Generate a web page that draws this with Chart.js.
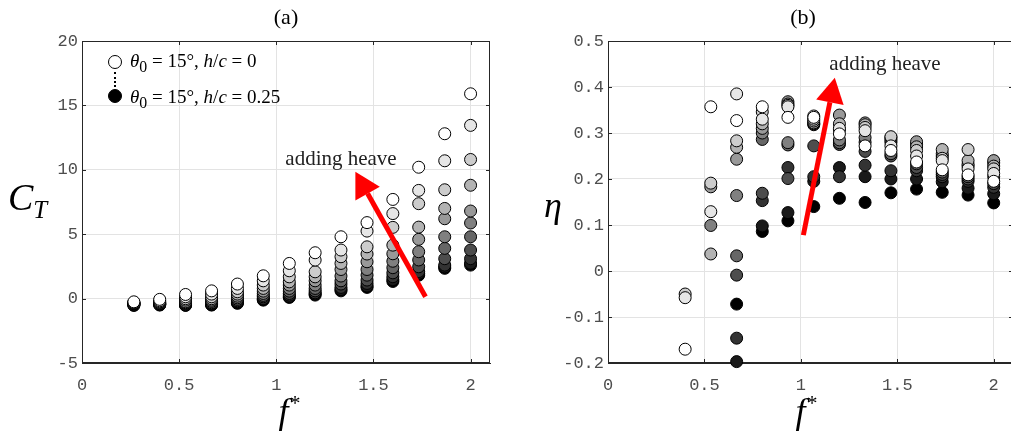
<!DOCTYPE html>
<html lang="en">
<head>
<meta charset="utf-8" />
<title>Thrust and efficiency vs f*</title>
<script src="https://cdn.jsdelivr.net/npm/chart.js@4.4.0/dist/chart.umd.min.js"></script>
<style>
  body { margin: 0; width: 1011px; height: 435px; overflow: hidden; background: #fff; position: relative; }
  canvas { position: absolute; top: 0; }
  #chartA { left: 0; }
  #chartB { left: 520px; }
  .lbl { position: absolute; color: #000; white-space: nowrap; line-height: 1; font-family: 'Liberation Serif', serif; transform: translate(-50%, -50%); }
  .panel { font-size: 22px; top: 17px; }
  .axis { font-size: 36px; font-style: italic; }
  .note { font-size: 21px; color: #222; }
  .leg { position: absolute; font-family: 'Liberation Serif', serif; font-size: 19px; white-space: nowrap; line-height: 1; transform: translateY(-50%); }
  .dot { position: absolute; width: 12px; height: 12px; border: 1px solid #000; border-radius: 50%; transform: translate(-50%, -50%); }
  .dots { position: absolute; left: 115px; top: 72px; height: 15px; border-left: 2px dotted #000; transform: translateX(-1px); }
</style>
</head>
<body>
  <canvas id="chartA" width="500" height="435"></canvas>
  <canvas id="chartB" width="500" height="435"></canvas>

  <div class="lbl panel" style="left:286px">(a)</div>
  <div class="lbl panel" style="left:803px">(b)</div>
  <div class="lbl axis" style="left:289px; top:410px">f<sup style="font-size:22px">*</sup></div>
  <div class="lbl axis" style="left:806px; top:410px">f<sup style="font-size:22px">*</sup></div>
  <div class="lbl axis" style="left:8px; top:200px; transform:translateY(-50%); font-size:38px">C<sub style="font-size:25px">T</sub></div>
  <div class="lbl axis" style="left:553px; top:205px">η</div>
  <div class="lbl note" style="left:341px; top:158px">adding heave</div>
  <div class="lbl note" style="left:885px; top:63px">adding heave</div>

  <div class="dot" style="left:115px; top:62px; background:#fff"></div>
  <div class="dots"></div>
  <div class="dot" style="left:115px; top:96px; background:#000"></div>
  <div class="leg" style="left:130px; top:63px"><i>θ</i><sub>0</sub> = 15°, <i>h</i>/<i>c</i> = 0</div>
  <div class="leg" style="left:130px; top:99px"><i>θ</i><sub>0</sub> = 15°, <i>h</i>/<i>c</i> = 0.25</div>

<script>
// reduced frequency f* for each panel
const fStarThrust = [0.267, 0.4, 0.533, 0.667, 0.8, 0.933, 1.067, 1.2, 1.333, 1.467, 1.6, 1.733, 1.867, 2.0];
const fStarEff = [0.4, 0.533, 0.667, 0.8, 0.933, 1.067, 1.2, 1.333, 1.467, 1.6, 1.733, 1.867, 2.0];

// heave amplitude h/c of each series (white -> black)
const hOverC = [0, 0.025, 0.05, 0.075, 0.1, 0.125, 0.15, 0.175, 0.2, 0.225, 0.25];

// thrust coefficient C_T, one row per h/c
const thrust = [
  [-0.25, -0.06, 0.32, 0.6, 1.13, 1.77, 2.73, 3.56, 4.8, 5.9, 7.7, 10.2, 12.8, 15.9],
  [-0.3, -0.17, 0.14, 0.35, 0.79, 1.38, 2.16, 2.99, 3.77, 5.24, 6.6, 8.4, 10.7, 13.45],
  [-0.32, -0.25, -0.01, 0.14, 0.53, 1.05, 1.69, 2.08, 3.25, 4.02, 5.53, 7.37, 8.45, 10.8],
  [-0.35, -0.3, -0.12, -0.01, 0.35, 0.79, 1.3, 1.69, 2.73, 3.46, 4.15, 5.55, 7.0, 8.8],
  [-0.37, -0.35, -0.25, -0.12, 0.19, 0.58, 1.05, 1.38, 2.26, 2.86, 3.48, 4.6, 6.2, 6.8],
  [-0.4, -0.37, -0.32, -0.22, 0.06, 0.4, 0.79, 1.05, 1.75, 2.26, 2.9, 3.64, 4.8, 5.87],
  [-0.43, -0.4, -0.37, -0.32, -0.06, 0.25, 0.58, 0.79, 1.38, 1.82, 2.4, 3.0, 3.9, 4.8],
  [-0.45, -0.43, -0.43, -0.37, -0.17, 0.14, 0.4, 0.6, 1.13, 1.44, 2.0, 2.47, 3.1, 3.77],
  [-0.48, -0.45, -0.48, -0.43, -0.25, 0.01, 0.27, 0.45, 0.87, 1.18, 1.7, 2.1, 2.6, 3.1],
  [-0.5, -0.48, -0.5, -0.48, -0.32, -0.06, 0.14, 0.35, 0.71, 0.97, 1.47, 1.96, 2.45, 2.75],
  [-0.53, -0.5, -0.53, -0.5, -0.37, -0.12, 0.09, 0.27, 0.6, 0.87, 1.33, 1.82, 2.35, 2.6]
];

// propulsive efficiency eta, one row per h/c (null = below the axis)
const efficiency = [
  [-0.17, 0.357, 0.327, 0.357, 0.334, 0.334, 0.298, 0.272, 0.262, 0.237, 0.22, 0.209, 0.195],
  [-0.058, 0.129, 0.385, 0.33, 0.357, 0.337, 0.31, 0.305, 0.272, 0.25, 0.24, 0.222, 0.212],
  [-0.05, 0.191, 0.283, 0.346, 0.36, 0.33, 0.307, 0.312, 0.292, 0.262, 0.245, 0.264, 0.222],
  [null, 0.037, 0.269, 0.32, 0.363, 0.326, 0.32, 0.318, 0.29, 0.27, 0.264, 0.24, 0.228],
  [null, 0.183, 0.243, 0.31, 0.368, 0.322, 0.339, 0.322, 0.285, 0.281, 0.255, 0.232, 0.24],
  [null, 0.099, 0.164, 0.30, 0.279, 0.32, 0.285, 0.29, 0.28, 0.275, 0.25, 0.228, 0.235],
  [null, null, 0.033, 0.286, 0.274, 0.318, 0.279, 0.28, 0.255, 0.233, 0.215, 0.205, 0.205],
  [null, null, -0.009, 0.169, 0.201, 0.272, 0.275, 0.26, 0.25, 0.225, 0.21, 0.2, 0.19],
  [null, null, -0.146, 0.153, 0.225, 0.205, 0.205, 0.23, 0.218, 0.218, 0.205, 0.195, 0.182],
  [null, null, -0.197, 0.098, 0.127, 0.195, 0.225, 0.205, 0.2, 0.2, 0.194, 0.18, 0.168],
  [null, null, -0.072, 0.086, 0.109, 0.14, 0.158, 0.149, 0.17, 0.178, 0.171, 0.165, 0.148]
];

// tick values and labels
const xTicks = [0, 0.5, 1, 1.5, 2];
const xTickLabels = ['0', '0.5', '1', '1.5', '2'];
const ctTicks = [-5, 0, 5, 10, 15, 20];
const ctTickLabels = ['-5', '0', '5', '10', '15', '20'];
const etaTicks = [-0.2, -0.1, 0, 0.1, 0.2, 0.3, 0.4, 0.5];
const etaTickLabels = ['-0.2', '-0.1', '0', '0.1', '0.2', '0.3', '0.4', '0.5'];

// "adding heave" arrows, tail -> head in data units
const arrowThrust = { x0: 1.768, y0: 0.14, x1: 1.407, y1: 9.85 };
const arrowEff = { x0: 1.013, y0: 0.078, x1: 1.176, y1: 0.42 };

const grays = ['#ffffff', '#e6e6e6', '#cccccc', '#b3b3b3', '#999999', '#808080',
               '#666666', '#4d4d4d', '#333333', '#1a1a1a', '#000000'];

function makeDatasets(xs, rows) {
  return rows.map((row, i) => ({
    label: 'h/c = ' + hOverC[i],
    data: row.map((v, j) => v === null ? null : { x: xs[j], y: v }).filter(p => p),
    backgroundColor: grays[i],
    borderColor: '#000',
    borderWidth: 1,
    pointRadius: 6,
    clip: false
  }));
}

function drawArrow(ctx, x0, y0, x1, y1) {
  const ang = Math.atan2(y1 - y0, x1 - x0);
  const headLen = 25, headW = 14;
  const bx = x1 - headLen * Math.cos(ang), by = y1 - headLen * Math.sin(ang);
  ctx.strokeStyle = '#ff0000';
  ctx.lineWidth = 5;
  ctx.beginPath();
  ctx.moveTo(x0, y0);
  ctx.lineTo(bx, by);
  ctx.stroke();
  ctx.fillStyle = '#ff0000';
  ctx.beginPath();
  ctx.moveTo(x1, y1);
  ctx.lineTo(bx + headW * Math.sin(ang), by - headW * Math.cos(ang));
  ctx.lineTo(bx - headW * Math.sin(ang), by + headW * Math.cos(ang));
  ctx.closePath();
  ctx.fill();
}

// box around the axes, inward ticks, and the red arrow
function framePlugin(arrow) {
  return {
    id: 'frame',
    beforeDatasetsDraw(chart) {
      const { ctx, chartArea: a, scales: { x, y } } = chart;
      ctx.save();
      ctx.strokeStyle = '#262626';
      ctx.lineWidth = 1;
      ctx.strokeRect(a.left + 0.5, a.top + 0.5, a.right - a.left - 1, a.bottom - a.top - 1);
      ctx.beginPath();
      x.ticks.forEach(t => {
        const px = Math.round(x.getPixelForValue(t.value)) + 0.5;
        ctx.moveTo(px, a.bottom); ctx.lineTo(px, a.bottom - 4);
        ctx.moveTo(px, a.top); ctx.lineTo(px, a.top + 4);
      });
      y.ticks.forEach(t => {
        const py = Math.round(y.getPixelForValue(t.value)) + 0.5;
        ctx.moveTo(a.left, py); ctx.lineTo(a.left + 4, py);
        ctx.moveTo(a.right, py); ctx.lineTo(a.right - 4, py);
      });
      ctx.stroke();
      ctx.restore();
    },
    afterDatasetsDraw(chart) {
      const { ctx, scales: { x, y } } = chart;
      ctx.save();
      drawArrow(ctx,
        x.getPixelForValue(arrow.x0), y.getPixelForValue(arrow.y0),
        x.getPixelForValue(arrow.x1), y.getPixelForValue(arrow.y1));
      ctx.restore();
    }
  };
}

function makeChart(id, xs, rows, yMin, yMax, yTicks, yLabels, yWidth, padRight, arrow) {
  const tickFont = { family: 'Liberation Mono', size: 17 };
  return new Chart(document.getElementById(id), {
    type: 'scatter',
    data: { datasets: makeDatasets(xs, rows) },
    options: {
      responsive: false,
      animation: false,
      events: [],
      layout: { padding: { top: 41, right: padRight, left: 0, bottom: 0 } },
      plugins: { legend: { display: false }, tooltip: { enabled: false } },
      scales: {
        x: {
          type: 'linear', min: 0, max: 2.1,
          afterBuildTicks: s => { s.ticks = xTicks.map(v => ({ value: v })); },
          afterFit: s => { s.height = 72; },
          grid: { color: '#e3e3e3', drawTicks: false },
          border: { color: '#262626' },
          ticks: {
            font: tickFont, color: '#4d4d4d', padding: 12, maxRotation: 0,
            callback: (v, i) => xTickLabels[i]
          }
        },
        y: {
          type: 'linear', min: yMin, max: yMax,
          afterBuildTicks: s => { s.ticks = yTicks.map(v => ({ value: v })); },
          afterFit: s => { s.width = yWidth; },
          grid: { color: '#e3e3e3', drawTicks: false },
          border: { color: '#262626' },
          ticks: {
            font: tickFont, color: '#4d4d4d', padding: 4,
            callback: (v, i) => yLabels[i]
          }
        }
      }
    },
    plugins: [framePlugin(arrow)]
  });
}

makeChart('chartA', fStarThrust, thrust, -5, 20, ctTicks, ctTickLabels, 82, 10, arrowThrust);
makeChart('chartB', fStarEff, efficiency, -0.2, 0.5, etaTicks, etaTickLabels, 88, 4, arrowEff);
</script>
</body>
</html>
